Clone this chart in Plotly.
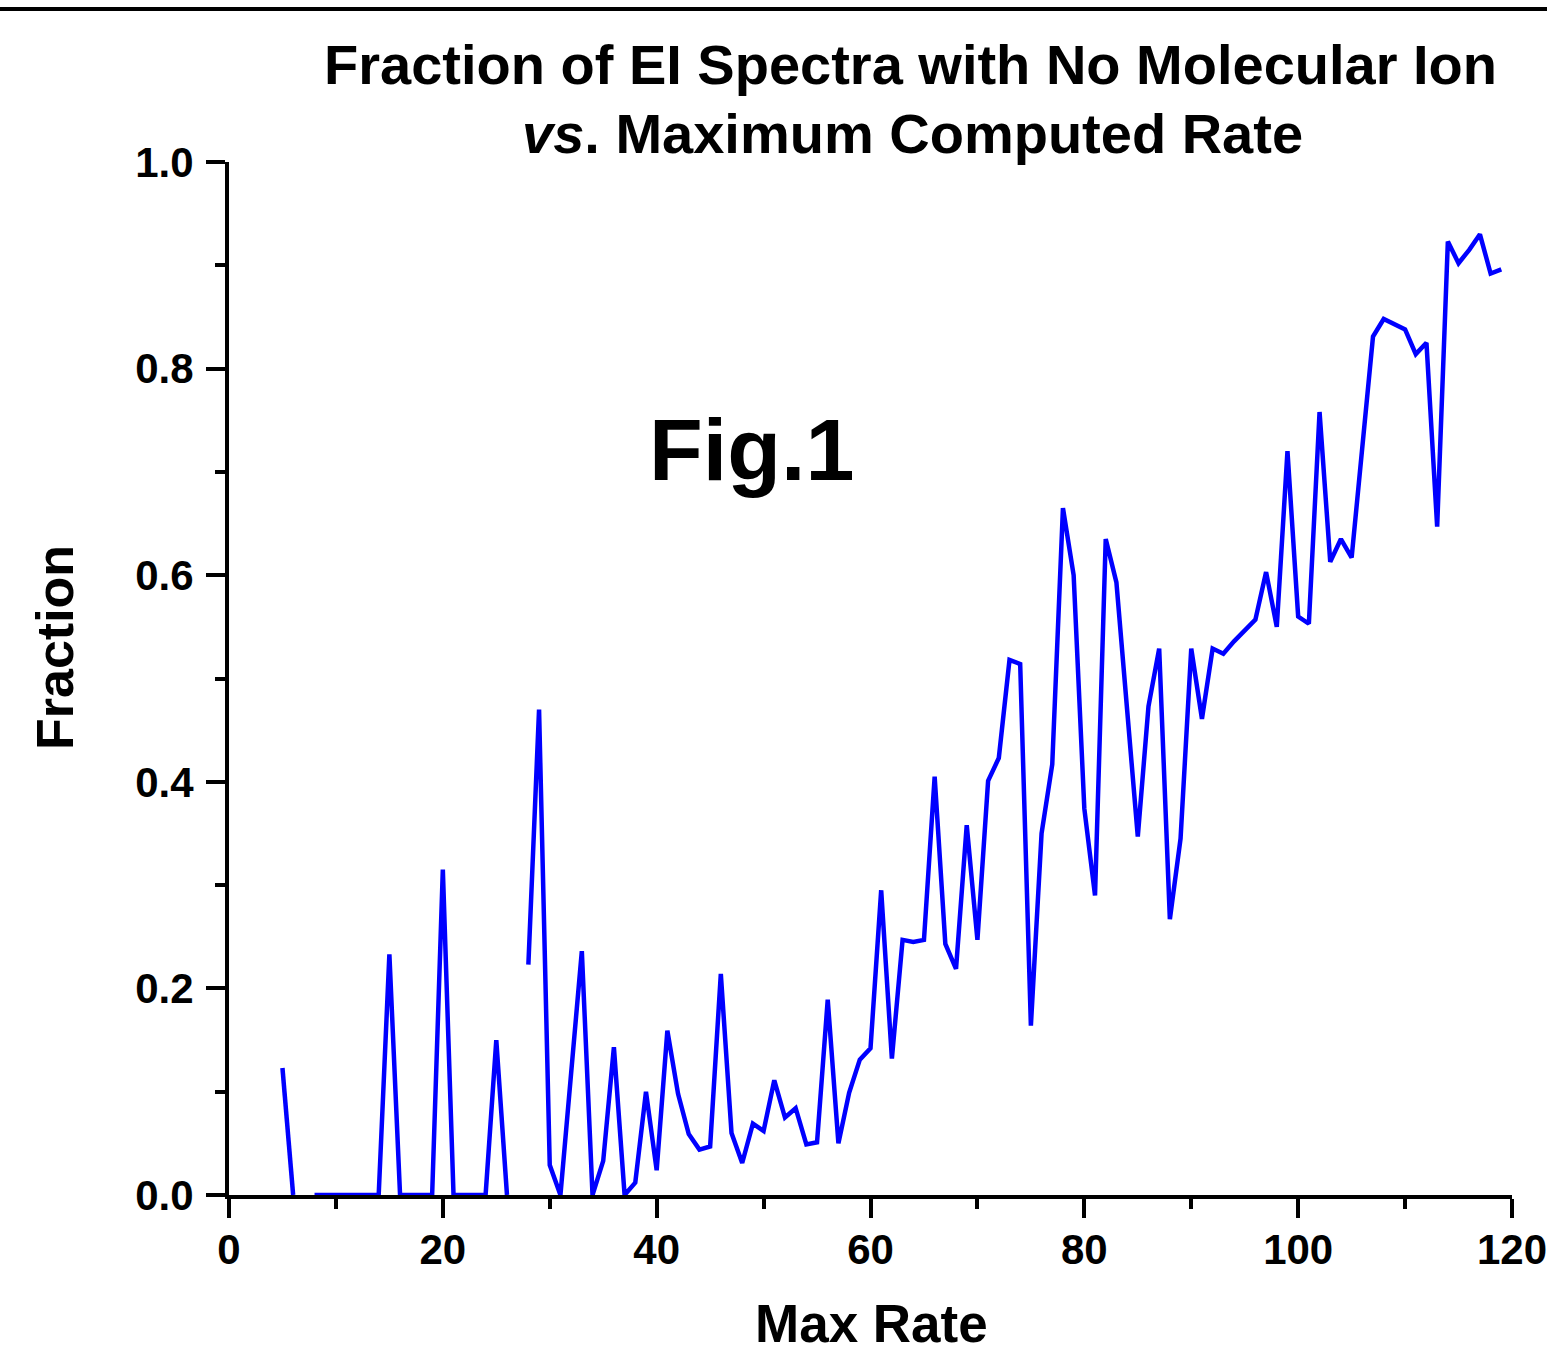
import plotly.graph_objects as go

# ---- data ----
max_rate = list(range(5, 120))
fraction = [
    0.123, 0.0, None, 0.0, 0.0, 0.0, 0.0, 0.0, 0.0, 0.0,          # 5-14
    0.233, 0.0, 0.0, 0.0, 0.0, 0.315, 0.0, 0.0, 0.0, 0.0,          # 15-24
    0.150, 0.0, None, 0.223, 0.470, 0.029, 0.0, 0.118, 0.236, 0.0, # 25-34
    0.033, 0.143, 0.0, 0.012, 0.100, 0.024, 0.159, 0.098, 0.059, 0.044,  # 35-44
    0.047, 0.214, 0.060, 0.031, 0.069, 0.062, 0.111, 0.075, 0.084, 0.049,  # 45-54
    0.051, 0.189, 0.050, 0.099, 0.131, 0.142, 0.295, 0.132, 0.247, 0.245,  # 55-64
    0.247, 0.405, 0.243, 0.219, 0.358, 0.247, 0.401, 0.423, 0.518, 0.514,  # 65-74
    0.164, 0.350, 0.417, 0.665, 0.600, 0.374, 0.290, 0.635, 0.593, 0.470,  # 75-84
    0.347, 0.473, 0.529, 0.267, 0.345, 0.529, 0.461, 0.529, 0.524, 0.536,  # 85-94
    0.546, 0.557, 0.603, 0.550, 0.720, 0.560, 0.553, 0.758, 0.613, 0.635,  # 95-104
    0.617, 0.720, 0.831, 0.848, 0.843, 0.838, 0.814, 0.825, 0.647, 0.923,  # 105-114
    0.902, 0.915, 0.930, 0.892, 0.896,                                     # 115-119
]
x_ticks = [0, 20, 40, 60, 80, 100, 120]
y_ticks = [0.0, 0.2, 0.4, 0.6, 0.8, 1.0]
y_tick_labels = ["0.0", "0.2", "0.4", "0.6", "0.8", "1.0"]

FONT = "Liberation Sans, Arial, Helvetica, sans-serif"

fig = go.Figure()
fig.add_trace(go.Scatter(
    x=max_rate, y=fraction, mode="lines",
    line=dict(color="#0000FF", width=4.5),
    connectgaps=False, showlegend=False,
))

W, H = 1547, 1355
L, R, T, B = 229, 35, 162, 160
pw, ph = W - L - R, H - T - B

def py(p):  # pixel y -> paper y
    return (H - B - p) / ph

def px(p):  # pixel x -> paper x
    return (p - L) / pw

axis_common = dict(
    showline=True, linecolor="black", linewidth=4,
    ticks="outside", ticklen=19, tickwidth=4, tickcolor="black",
    showgrid=False, zeroline=False, mirror=False,
    ticklabeloverflow="allow", automargin=False,
    tickfont=dict(family=FONT, size=42, color="black", weight="bold"),
)

fig.update_layout(
    width=W, height=H,
    margin=dict(l=L, r=R, t=T, b=B, autoexpand=False),
    paper_bgcolor="white", plot_bgcolor="white",
    xaxis=dict(
        range=[0, 120], tickvals=x_ticks, ticktext=[str(v) for v in x_ticks],
        minor=dict(dtick=10, tick0=0, ticks="outside", ticklen=10, tickwidth=4, tickcolor="black"),
        ticklabelstandoff=-4,
        **axis_common,
    ),
    yaxis=dict(
        range=[0, 1.0], tickvals=y_ticks, ticktext=y_tick_labels,
        minor=dict(dtick=0.1, tick0=0, ticks="outside", ticklen=10, tickwidth=4, tickcolor="black"),
        ticklabelstandoff=4,
        **axis_common,
    ),
    annotations=[
        dict(text="<b>Fraction of EI Spectra with No Molecular Ion</b>",
             xref="paper", yref="paper", x=px(910), y=py(65),
             xanchor="center", yanchor="middle", showarrow=False,
             font=dict(family=FONT, size=56, color="black")),
        dict(text="<b><i>vs</i>. Maximum Computed Rate</b>",
             xref="paper", yref="paper", x=px(912), y=py(133),
             xanchor="center", yanchor="middle", showarrow=False,
             font=dict(family=FONT, size=56, color="black")),
        dict(text="<b>Fig.1</b>",
             xref="paper", yref="paper", x=px(751), y=py(449),
             xanchor="center", yanchor="middle", showarrow=False,
             font=dict(family=FONT, size=88, color="black")),
        dict(text="<b>Max Rate</b>",
             xref="paper", yref="paper", x=px(871), y=py(1355),
             xanchor="center", yanchor="bottom", showarrow=False,
             font=dict(family=FONT, size=53, color="black")),
        dict(text="<b>Fraction</b>",
             xref="paper", yref="paper", x=px(55), y=py(648),
             xanchor="center", yanchor="middle", showarrow=False, textangle=-90,
             font=dict(family=FONT, size=52, color="black")),
    ],
    shapes=[
        dict(type="line", xref="paper", yref="paper",
             x0=px(0), x1=px(W), y0=py(9), y1=py(9),
             line=dict(color="black", width=4)),
    ],
)

fig.write_html("out.html", config={"displayModeBar": False},
               post_script="document.body.style.margin='0';")
